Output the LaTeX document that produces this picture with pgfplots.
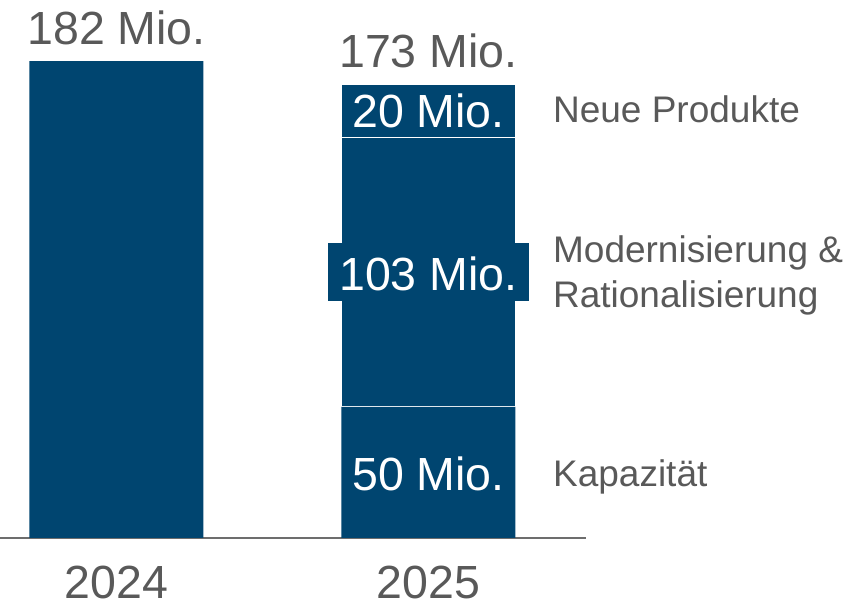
\documentclass[border=0pt]{standalone}
\usepackage{pgfplots}
\pgfplotsset{compat=1.18}
\usepackage{fontspec}
\setmainfont{Liberation Sans}
\definecolor{barblue}{HTML}{004570}
\definecolor{txtgrey}{HTML}{595959}
\definecolor{axgrey}{HTML}{6D6D6D}
\newcommand{\bigfnt}{\fontsize{46.5}{55}\selectfont}
\newcommand{\midfnt}{\fontsize{37}{45}\selectfont}
\begin{document}
\begin{tikzpicture}
\useasboundingbox (0,-70pt) rectangle (863pt,538pt);
\begin{axis}[
  at={(0,0)}, anchor=south west,
  scale only axis, width=586pt, height=538pt,
  xmin=-0.3734, xmax=1.505, ymin=0, ymax=205.3,
  ybar stacked, bar width=174pt,
  axis x line=bottom, axis y line=none,
  axis line style={draw=axgrey, line width=1.5pt, -},
  xtick={0,1}, xticklabels={2024,2025},
  major tick length=0pt,
  xticklabel style={font=\bigfnt, text=txtgrey, anchor=base, inner sep=0pt, yshift=-60pt},
  clip=false,
]
\addplot[fill=barblue, draw=none] coordinates {(0,182) (1,50)};
\addplot[fill=barblue, draw=white, line width=1pt] coordinates {(0,0) (1,103)};
\addplot[fill=barblue, draw=white, line width=1pt] coordinates {(0,0) (1,20)};
\coordinate (l182) at (axis cs:0,188.5);
\coordinate (l173) at (axis cs:1,179.4);
\coordinate (l20) at (axis cs:1,156.5);
\coordinate (l103) at (axis cs:1,94.3);
\coordinate (l50) at (axis cs:1,18.3);
\coordinate (rNP) at (axis cs:1.399,158.4);
\coordinate (rMR1) at (axis cs:1.399,105);
\coordinate (rMR2) at (axis cs:1.399,87.8);
\coordinate (rK) at (axis cs:1.399,19.8);
\end{axis}
\node[anchor=base, font=\bigfnt, text=txtgrey, inner sep=0] at (l182) {182 Mio.};
\node[anchor=base, font=\bigfnt, text=txtgrey, inner sep=0] at (l173) {173 Mio.};
\node[anchor=base, font=\bigfnt, text=white, inner sep=0] at (l20) {20 Mio.};
\node[anchor=base, font=\bigfnt, text=white, fill=barblue, inner xsep=11pt, inner ysep=10pt, text height=38pt, text depth=0pt] at (l103) {103 Mio.};
\node[anchor=base, font=\bigfnt, text=white, inner sep=0] at (l50) {50 Mio.};
\node[anchor=base west, font=\midfnt, text=txtgrey, inner sep=0] at (rNP) {Neue Produkte};
\node[anchor=base west, font=\midfnt, text=txtgrey, inner sep=0] at (rMR1) {Modernisierung \&};
\node[anchor=base west, font=\midfnt, text=txtgrey, inner sep=0] at (rMR2) {Rationalisierung};
\node[anchor=base west, font=\midfnt, text=txtgrey, inner sep=0] at (rK) {Kapazität};
\end{tikzpicture}
\end{document}
